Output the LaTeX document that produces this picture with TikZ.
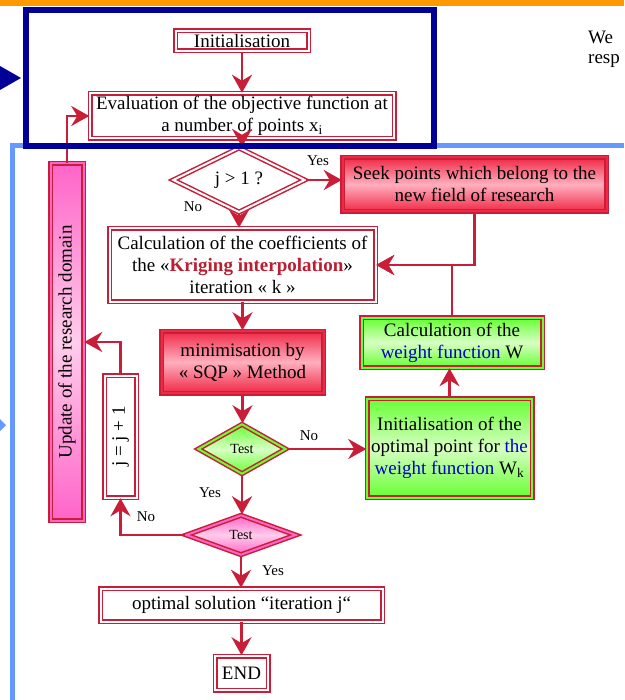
\documentclass[tikz,border=0pt]{standalone}
\usepackage{fontspec}
\setmainfont{Liberation Serif}
\usepackage{graphicx}
\usepackage{tikz}
\usetikzlibrary{arrows.meta,positioning,shapes.geometric,calc}
\definecolor{flowred}{RGB}{200,30,55}
\definecolor{flowdark}{RGB}{185,30,50}
\definecolor{flowrose}{RGB}{240,40,70}
\definecolor{flowlightrose}{RGB}{255,175,190}
\definecolor{flowpink}{RGB}{255,100,200}
\definecolor{flowlightpink}{RGB}{255,205,235}
\definecolor{flowgreen}{RGB}{102,255,51}
\definecolor{flowlightgreen}{RGB}{215,255,195}
\definecolor{framenavy}{RGB}{0,0,150}
\definecolor{frameblue}{RGB}{102,153,255}
\definecolor{barorange}{RGB}{255,153,0}
\definecolor{textblue}{RGB}{0,0,190}

\begin{document}
\begin{tikzpicture}[x=1pt, y=-1pt,
  every node/.style={font=\fontsize{19}{22}\selectfont},
  plainbox/.style={draw=flowred, line width=1.5pt, double=white,
                   double distance=2pt, fill=white, align=center, inner sep=1pt},
  redbox/.style={plainbox, double=flowrose, top color=flowrose,
                 bottom color=flowrose, middle color=flowlightrose},
  greenbox/.style={plainbox, double=flowgreen, top color=flowgreen,
                   bottom color=flowgreen, middle color=flowlightgreen},
  pinkbox/.style={plainbox, double=flowpink, top color=flowpink,
                  bottom color=flowpink, middle color=flowlightpink},
  decision/.style={diamond, inner sep=0pt},
  flow/.style={draw=flowred, line width=2.6pt,
               -{Stealth[length=18pt, width=20pt, inset=6pt]}},
  lbl/.style={font=\fontsize{15}{18}\selectfont, inner sep=0pt}
]
\useasboundingbox (0,0) rectangle (624,700);
\fill[white] (0,0) rectangle (624,700);

% Start
\node[plainbox, minimum width=133pt, minimum height=20pt] (init) at (242,41) {Initialisation};
\node[plainbox, minimum width=304pt, minimum height=45pt, below=41pt of init] (eval)
  {Evaluation of the objective function at\\a number of points x\textsubscript{i}};

% Kriging loop
\node[plainbox, decision, minimum width=132pt, minimum height=40pt] (dec1) at (239,180) {j > 1 ?};
\node[redbox, minimum width=264pt, minimum height=54pt] (seek) at (474.5,184.5)
  {Seek points which belong to the\\new field of research};
\node[plainbox, minimum width=266pt, minimum height=73pt] (calc) at (242.5,265)
  {Calculation of the coefficients of\\the «\textbf{\color{flowdark}Kriging interpolation}»\\iteration « k »};
\node[redbox, minimum width=162pt, minimum height=62pt, below=28pt of calc] (minim)
  {minimisation by\\« SQP » Method};
\node[greenbox, decision, minimum width=88pt, minimum height=50pt] (test1) at (242,449)
  {\fontsize{14}{16}\selectfont Test};

% Weight function
\node[greenbox, minimum width=181pt, minimum height=50pt] (weight) at (452,342.5)
  {Calculation of the\\{\color{textblue}weight function} W};
\node[greenbox, minimum width=165pt, minimum height=99pt] (initopt) at (449.5,448)
  {Initialisation of the\\optimal point for {\color{textblue}the}\\{\color{textblue}weight function} W\textsubscript{k}};

% Outer loop
\node[pinkbox, decision, minimum width=110pt, minimum height=40pt] (test2) at (241,535)
  {\fontsize{14}{16}\selectfont Test};
\node[plainbox, minimum width=32pt, minimum height=122pt] (jbox) at (120.5,436.5)
  {\rotatebox{90}{j = j + 1}};
\node[pinkbox, minimum width=33pt, minimum height=357pt] (update) at (67,342)
  {\rotatebox{90}{Update of the research domain}};

% End
\node[plainbox, minimum width=282pt, minimum height=33pt] (optsol) at (241.5,605)
  {optimal solution “iteration j“};
\node[plainbox, minimum width=53pt, minimum height=34pt, below=33pt of optsol] (endbox) {END};

% Connectors
\draw[flow] (init) -- (eval);
\draw[flow] (eval.south) -- (eval.south |- dec1.north);
\draw[flow] (dec1.east) -- (dec1.east -| seek.west);
\draw[flow] (dec1.south) -- (dec1.south |- calc.north);
\draw[flow] (seek.south) |- (calc.east);
\draw[flow] (weight.north) |- (calc.east);
\draw[flow] (calc) -- (minim);
\draw[flow] (minim.south) -- (minim.south |- test1.north);
\draw[flow] (test1.east) -- (test1.east -| initopt.west);
\draw[flow] (initopt.north) -- (initopt.north |- weight.south);
\draw[flow] (test1.south) -- (test1.south |- test2.north);
\draw[flow] (test2.west) -| (jbox.south);
\draw[flow] (jbox.north) |- (update.east);
\draw[flow] (update.north) |- (eval.west);
\draw[flow] (test2.south) -- (test2.south |- optsol.north);
\draw[flow] (optsol) -- (endbox);

% Labels
\node[lbl] (yes1) at (318,161) {Yes};
\node[lbl] (no1) at (193,207) {No};
\node[lbl] (no2) at (309,436) {No};
\node[lbl] (yes2) at (210,493) {Yes};
\node[lbl] (no3) at (146,517) {No};
\node[lbl] (yes3) at (273,571) {Yes};

% Frames
\fill[barorange] (0,0) rectangle (624,6);
\draw[frameblue, line width=5pt] (12,700) -- (12,146) -- (624,146);
\fill[frameblue] (0,419) -- (6,425) -- (0,431) -- cycle;
\draw[framenavy, line width=6pt] (26,10) rectangle (434,146);
\fill[framenavy] (0,66) -- (21,78) -- (0,90) -- cycle;
\node[anchor=west, inner sep=0pt] (we) at (588,37) {We};
\node[anchor=west, inner sep=0pt] (resp) at (588,61) {resp};
\end{tikzpicture}
\end{document}
